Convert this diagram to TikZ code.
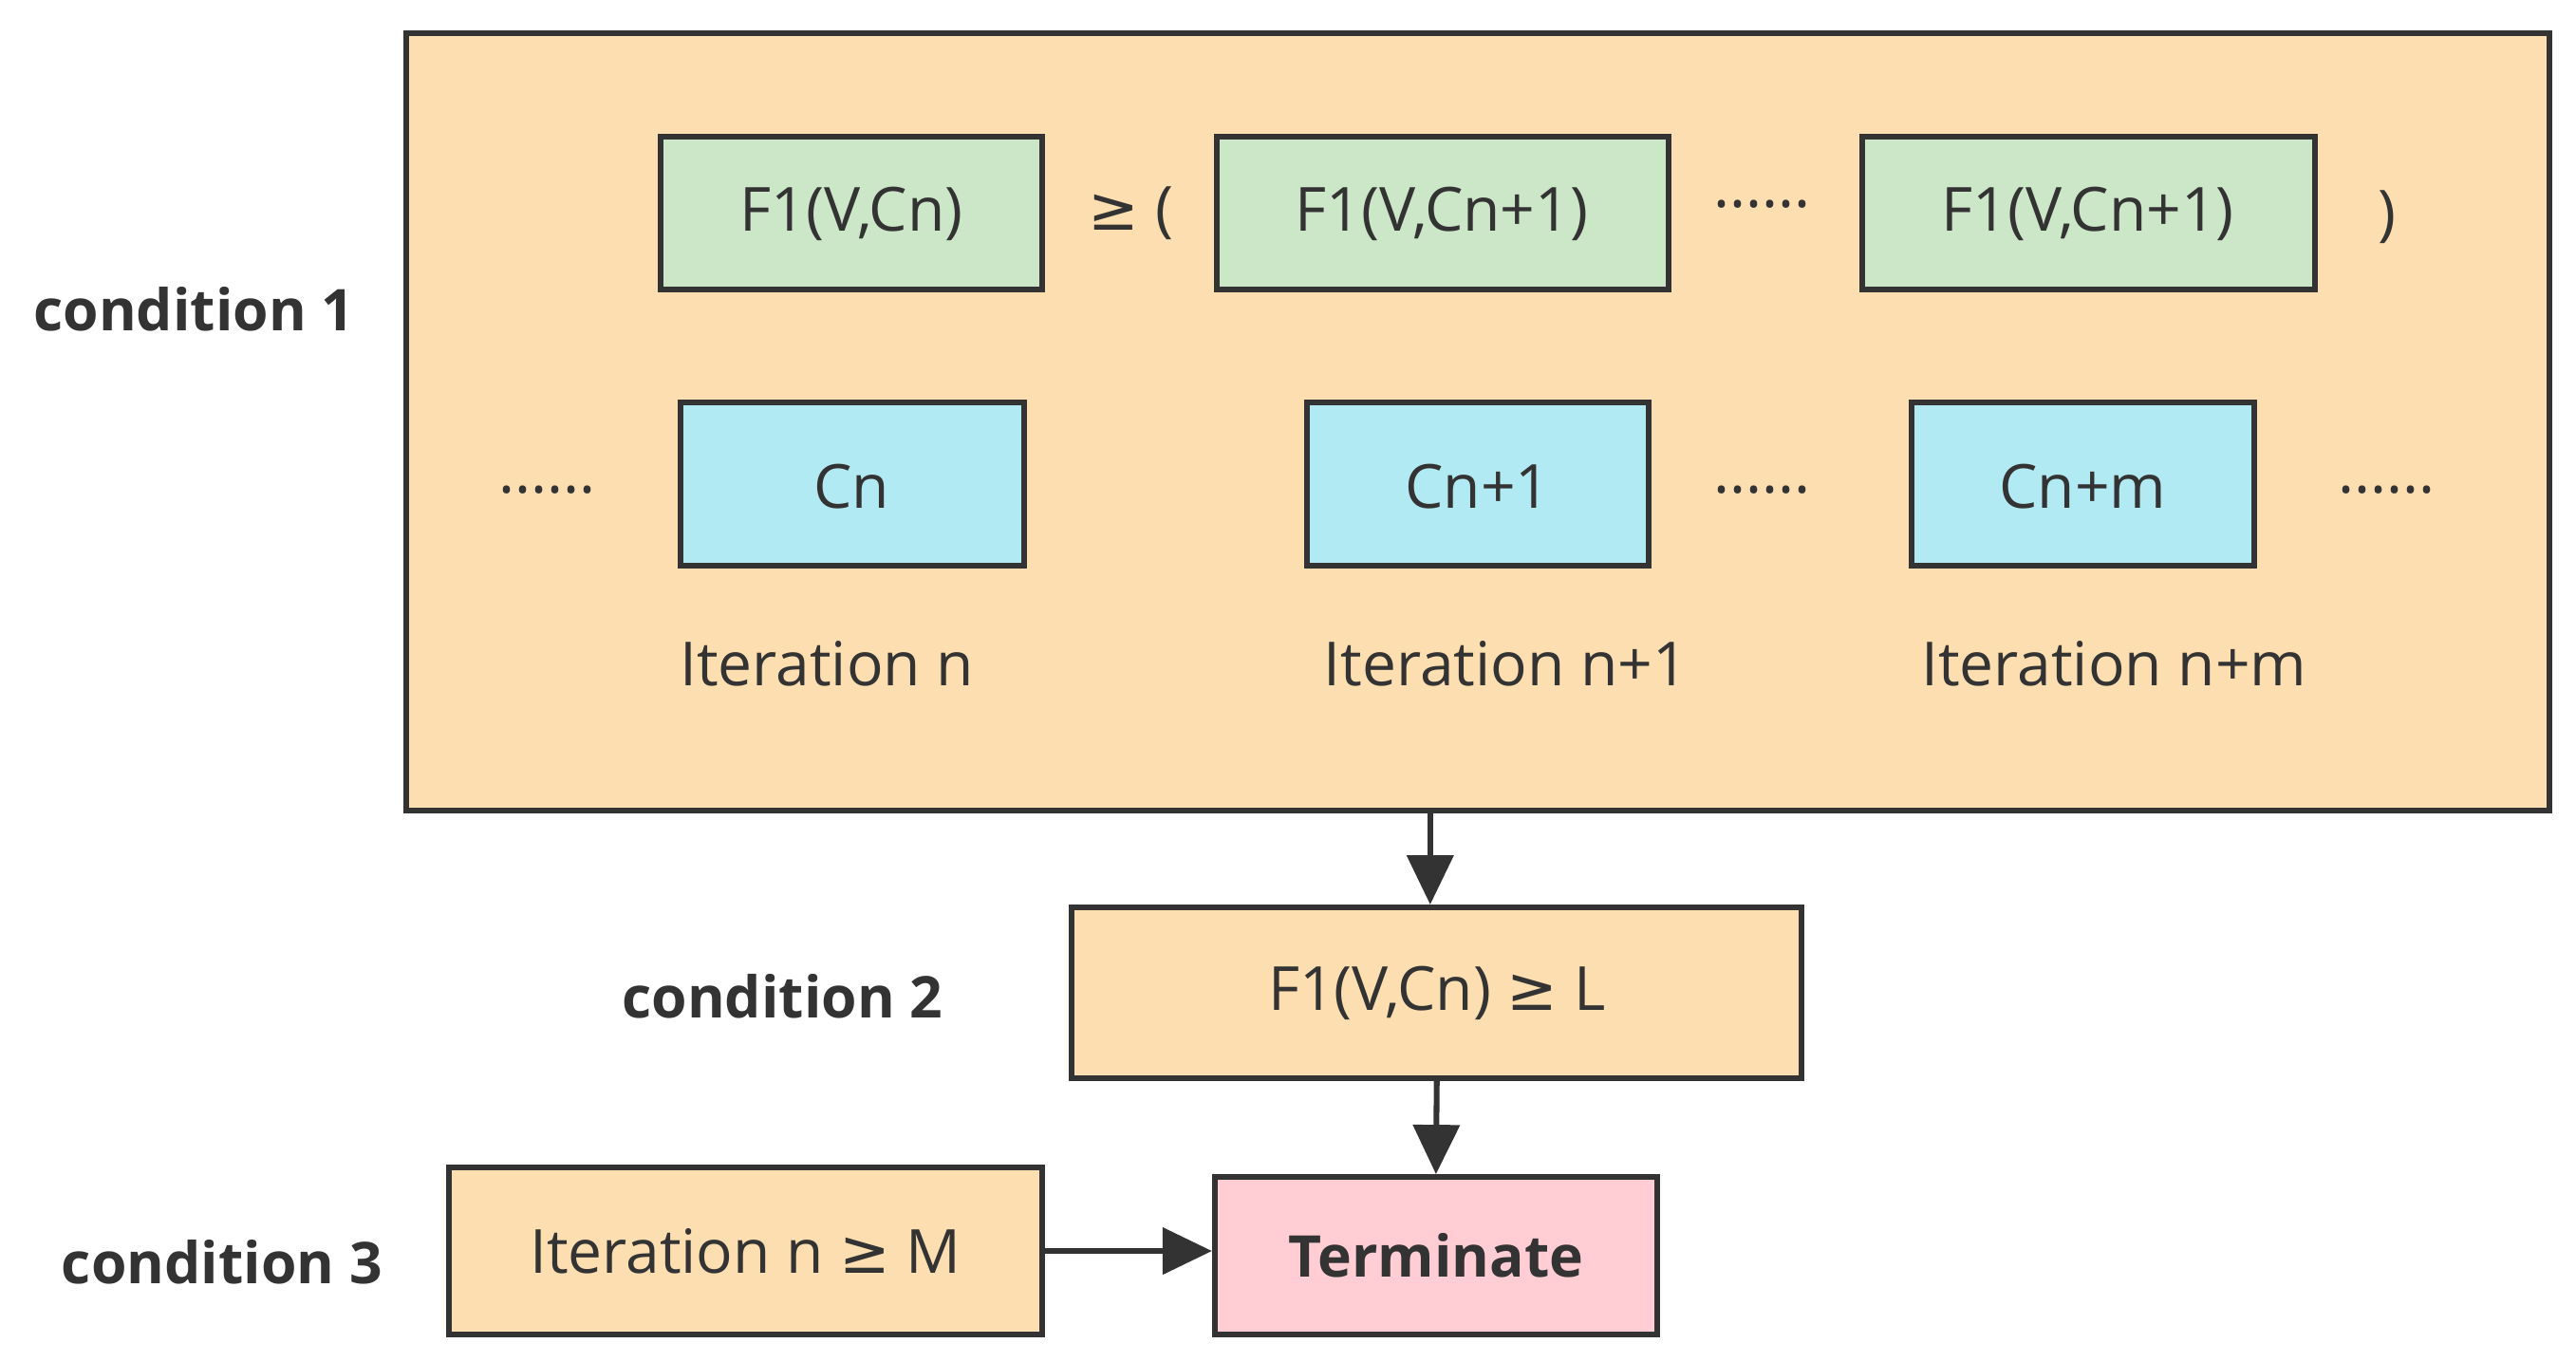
\documentclass[tikz,border=0pt]{standalone}
\usepackage{fontspec}
\setmainfont{Open Sans}
\newfontfamily\sym{DejaVu Sans}
\newcommand{\myge}{{\sym ≥}}
\usetikzlibrary{arrows.meta}
\definecolor{peach}{HTML}{FDDEB0}
\definecolor{grn}{HTML}{CCE6C8}
\definecolor{blu}{HTML}{B1EAF2}
\definecolor{pnk}{HTML}{FFCDD3}
\definecolor{ln}{HTML}{333333}
\begin{document}
\begin{tikzpicture}[x=1pt,y=-1pt,
  bx/.style={draw=ln,line width=3.5pt},
  t/.style={font=\fontsize{37}{40}\selectfont,text=ln},
  b/.style={font=\fontsize{35}{40}\selectfont\bfseries,text=ln},
  arr/.style={ln,line width=3.5pt,-{Triangle[length=30pt,width=28pt]}}]
\useasboundingbox (0,0) rectangle (1567,828);
\draw[bx,fill=peach] (247,20) rectangle (1551,493);
\coordinate (big) at (870,493);
\node[b] (c1) at (118,188) {condition 1};
\draw[bx,fill=grn] (402,83) rectangle (634,176); \node[t] (g1) at (518,130) {F1(V,Cn)};
\draw[bx,fill=grn] (740,83) rectangle (1015,176); \node[t] (g2) at (877,130) {F1(V,Cn+1)};
\draw[bx,fill=grn] (1133,83) rectangle (1408,176); \node[t] (g3) at (1270,130) {F1(V,Cn+1)};
\node[t] (ge) at (688,130) {\myge{} (};
\node[t] (d1) at (1072,124) {......};
\node[t] (rp) at (1452,132) {)};
\draw[bx,fill=blu] (414,245) rectangle (623,344); \node[t] (b1) at (518,296) {Cn};
\draw[bx,fill=blu] (795,245) rectangle (1003,344); \node[t] (b2) at (899,296) {Cn+1};
\draw[bx,fill=blu] (1163,245) rectangle (1371,344); \node[t] (b3) at (1267,296) {Cn+m};
\node[t] (d2) at (333,298) {......};
\node[t] (d3) at (1072,298) {......};
\node[t] (d4) at (1452,298) {......};
\node[t] (i1) at (503,404) {Iteration n};
\node[t] (i2) at (916,404) {Iteration n+1};
\node[t] (i3) at (1286,404) {Iteration n+m};
\node[bx,fill=peach,t,minimum width=444pt,minimum height=104pt,inner sep=0] (c2) at (874,604) {F1(V,Cn) \myge{} L};
\node[b] (l2) at (476,606) {condition 2};
\node[bx,fill=pnk,b,minimum width=269pt,minimum height=96pt,inner sep=0] (term) at (873.5,764) {Terminate};
\node[bx,fill=peach,t,minimum width=361pt,minimum height=102pt,inner sep=0] (im) at (453.5,761) {Iteration n \myge{} M};
\node[b] (l3) at (135,768) {condition 3};
\draw[arr] (big) -- (big|-c2.north);
\draw[arr] (c2.south) -- (term.north);
\draw[arr] (im.east) -- (im.east-|term.west);
\end{tikzpicture}
\end{document}
